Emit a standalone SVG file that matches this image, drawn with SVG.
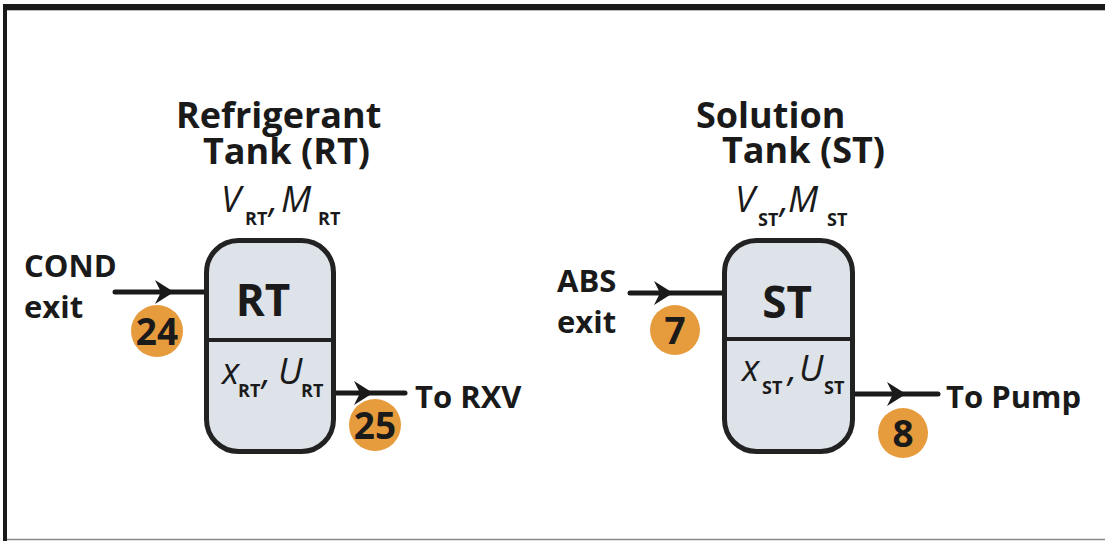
<svg xmlns="http://www.w3.org/2000/svg" width="1105" height="541" viewBox="0 0 1105 541">
<defs>
<style>
.frame{fill:#1a1a1a}
.tank{fill:#dde3e9;stroke:#222;stroke-width:5}
.div{stroke:#222;stroke-width:4}
.pipe{fill:none;stroke:#1a1a1a;stroke-width:5;stroke-linecap:round;marker-mid:url(#ah)}
.badge{fill:#e69b3d}
.t{font-family:"Open Sans","Liberation Sans",sans-serif;font-weight:700;fill:#1a1a1a}
.h{font-size:36px}
.lab{font-size:31px}
.tk{font-size:44px;text-anchor:middle}
.num{font-size:37px;text-anchor:middle}
.v{font-family:"Open Sans","Liberation Sans",sans-serif;font-style:italic;font-weight:400;font-size:36px;fill:#1a1a1a}
.s{font-family:"Open Sans","Liberation Sans",sans-serif;font-style:normal;font-weight:700;font-size:18px;fill:#1a1a1a}
</style>
<marker id="ah" viewBox="0 0 19 24" refX="19" refY="12" markerWidth="19" markerHeight="24" markerUnits="userSpaceOnUse" orient="auto">
<path d="M0,0 L19,12 L0,24 L6,12 Z" fill="#1a1a1a"/>
</marker>
</defs>
<rect width="1105" height="541" fill="#fff"/>
<g id="frame">
<rect class="frame" x="3" y="4" width="1102" height="6"/>
<rect class="frame" x="3" y="4" width="4" height="537"/>
<line x1="7" y1="10.5" x2="1105" y2="10.5" stroke="#bbb" stroke-width="1"/>
<line x1="7" y1="539.5" x2="1105" y2="539.5" stroke="#888" stroke-width="1.5"/>
</g>
<g id="connectors">
<path class="pipe" d="M115,292 L174,292 L206,292"/>
<path class="pipe" d="M336,393 L373,393 L405,393"/>
<path class="pipe" d="M630,293 L673,293 L724,293"/>
<path class="pipe" d="M853,394 L906,394 L938,394"/>
</g>
<g id="RT">
<text class="t h" x="176" y="128">Refrigerant<tspan x="203" y="164">Tank (RT)</tspan></text>
<text class="v" x="221" y="212">V<tspan class="s" x="245" y="225">RT</tspan><tspan x="269" y="212">,</tspan><tspan x="281">M</tspan><tspan class="s" x="318" y="225">RT</tspan></text>
<rect class="tank" x="206.5" y="240.5" width="127" height="211" rx="32"/>
<line class="div" x1="206" y1="340" x2="334" y2="340"/>
<text class="t tk" x="263" y="316">RT</text>
<text class="v" x="222" y="384">x<tspan class="s" x="238" y="397">RT</tspan><tspan x="262" y="384">,</tspan><tspan x="278">U</tspan><tspan class="s" x="301" y="397">RT</tspan></text>
</g>
<g id="ST">
<text class="t h" x="696" y="128">Solution<tspan x="722" y="163">Tank (ST)</tspan></text>
<text class="v" x="735" y="212">V<tspan class="s" x="758" y="226">ST</tspan><tspan x="780" y="212">,</tspan><tspan x="788">M</tspan><tspan class="s" x="827" y="226">ST</tspan></text>
<rect class="tank" x="724.5" y="240.5" width="128" height="211" rx="32"/>
<line class="div" x1="724" y1="339" x2="853" y2="339"/>
<text class="t tk" x="787" y="318">ST</text>
<text class="v" x="742" y="381">x<tspan class="s" x="762" y="394">ST</tspan><tspan x="788" y="381">,</tspan><tspan x="799">U</tspan><tspan class="s" x="824" y="394">ST</tspan></text>
</g>
<g id="labels">
<text class="t lab" x="24" y="277">COND</text>
<text class="t lab" x="24" y="318">exit</text>
<text class="t lab" x="557" y="292">ABS</text>
<text class="t lab" x="557" y="333">exit</text>
<text class="t lab" x="415" y="408">To RXV</text>
<text class="t lab" x="946" y="408">To Pump</text>
</g>
<g id="badge24"><circle class="badge" cx="157" cy="331" r="26"/><text class="t num" x="157" y="345">24</text></g>
<g id="badge25"><circle class="badge" cx="375" cy="425" r="26"/><text class="t num" x="375" y="439">25</text></g>
<g id="badge7"><circle class="badge" cx="675" cy="330" r="25"/><text class="t num" x="675" y="344">7</text></g>
<g id="badge8"><circle class="badge" cx="903" cy="433" r="25"/><text class="t num" x="903" y="447">8</text></g>
</svg>
